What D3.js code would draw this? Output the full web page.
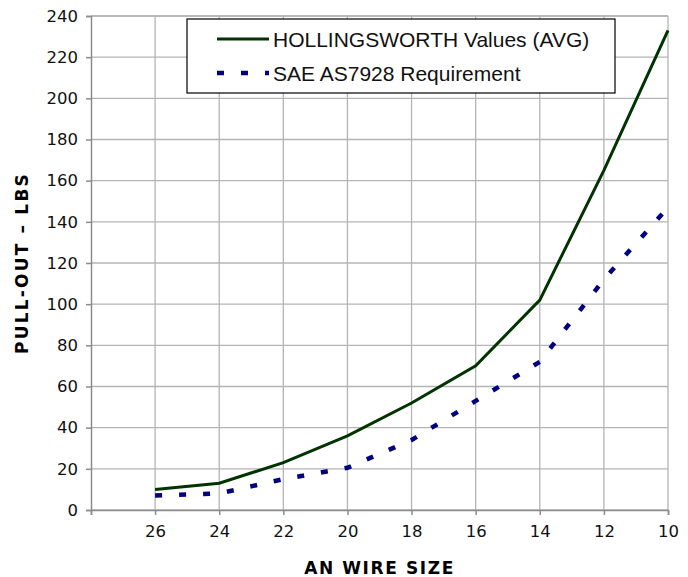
<!DOCTYPE html>
<html>
<head>
<meta charset="utf-8">
<script src="https://cdn.jsdelivr.net/npm/d3@7"></script>
<style>
  body { margin: 0; background: #fff; }
  svg { display: block; }
</style>
</head>
<body>
<div id="chart"></div>
<script>
// wire sizes, left to right
wireSizes = ["26", "24", "22", "20", "18", "16", "14", "12", "10"]
hollingsworth = [10, 13, 23, 36, 52, 70, 102, 165, 233]
saeReq = [7, 8, 15, 20.5, 34, 53, 72, 112, 147]
yTicks = [0, 20, 40, 60, 80, 100, 120, 140, 160, 180, 200, 220, 240]
seriesNames = ["HOLLINGSWORTH Values (AVG)", "SAE AS7928 Requirement"]

margin = {top: 16, right: 20, bottom: 67, left: 91},
width = 688 - margin.left - margin.right,
height = 577 - margin.top - margin.bottom;

svg = d3.select("#chart")
  .append("svg")
  .attr("width", 688)
  .attr("height", 577)
  .append("g")
  .attr("transform", `translate(${margin.left}, ${margin.top})`);

// empty slot on the left so 26 sits one step in from the axis
x = d3.scalePoint()
  .domain([""].concat(wireSizes))
  .range([0, width]);

y = d3.scaleLinear()
  .domain([0, 240])
  .range([height, 0]);

// grid
svg.append("g")
  .selectAll("line")
  .data(yTicks)
  .join("line")
    .attr("x1", 0).attr("x2", width)
    .attr("y1", d => y(d)).attr("y2", d => y(d))
    .style("stroke", "#b4b4b4").style("stroke-width", 1.3)
svg.append("g")
  .selectAll("line")
  .data(wireSizes)
  .join("line")
    .attr("x1", d => x(d)).attr("x2", d => x(d))
    .attr("y1", 0).attr("y2", height)
    .style("stroke", "#b4b4b4").style("stroke-width", 1.3)
svg.append("line")
  .attr("x1", 0).attr("x2", width).attr("y1", 0).attr("y2", 0)
  .style("stroke", "#b4b4b4").style("stroke-width", 1.3)

// axes
xAxis = svg.append("g")
  .attr("transform", `translate(0, ${height})`)
  .call(d3.axisBottom(x).tickSize(5).tickPadding(10))
xAxis.selectAll("text")
  .style("font-family", "DejaVu Sans, Verdana, sans-serif")
  .style("font-size", "16.5px")
  .style("fill", "#111")
xAxis.selectAll("line, path").style("stroke", "#8c8c8c").style("stroke-width", 1.5)

yAxis = svg.append("g")
  .call(d3.axisLeft(y).tickValues(yTicks).tickSize(5).tickPadding(8))
yAxis.selectAll("text")
  .style("font-family", "DejaVu Sans, Verdana, sans-serif")
  .style("font-size", "16.5px")
  .style("fill", "#111")
yAxis.selectAll("line, path").style("stroke", "#8c8c8c").style("stroke-width", 1.5)

// lines
line = d3.line()
  .x((d, i) => x(wireSizes[i]))
  .y(d => y(d))

svg.append("path")
  .datum(hollingsworth)
  .attr("d", line)
  .style("fill", "none")
  .style("stroke", "#003300")
  .style("stroke-width", 3)

svg.append("path")
  .datum(saeReq)
  .attr("d", line)
  .style("fill", "none")
  .style("stroke", "#000080")
  .style("stroke-width", 4.5)
  .style("stroke-dasharray", "7,17")

// axis titles
svg.append("text")
  .attr("x", width / 2)
  .attr("y", height + 64)
  .attr("text-anchor", "middle")
  .style("font-family", "DejaVu Sans, Verdana, sans-serif")
  .style("font-weight", "bold")
  .style("font-size", "17px")
  .style("letter-spacing", "1.6px")
  .text("AN WIRE SIZE")

svg.append("text")
  .attr("transform", `translate(${-63}, ${247}) rotate(-90)`)
  .attr("text-anchor", "middle")
  .style("font-family", "DejaVu Sans, Verdana, sans-serif")
  .style("font-weight", "bold")
  .style("font-size", "17px")
  .style("letter-spacing", "2.2px")
  .text("PULL-OUT – LBS")

// legend
legend = svg.append("g")
  .attr("transform", `translate(${187 - margin.left}, ${19 - margin.top})`)
legend.append("rect")
  .attr("width", 428).attr("height", 74)
  .style("fill", "#fff")
  .style("stroke", "#000")
  .style("stroke-width", 1.2)

legendStyles = [
  {stroke: "#003300", w: 3, dash: null},
  {stroke: "#000080", w: 4.5, dash: "7,17"}
]
seriesNames.forEach(function(name, i) {
  row = legend.append("g").attr("transform", `translate(0, ${20 + i * 34})`)
  row.append("line")
    .attr("x1", 30).attr("x2", 82)
    .style("stroke", legendStyles[i].stroke)
    .style("stroke-width", legendStyles[i].w)
    .style("stroke-dasharray", legendStyles[i].dash)
  row.append("text")
    .attr("x", 86)
    .attr("dy", "0.36em")
    .style("font-family", "Liberation Sans, Arial, sans-serif")
    .style("font-size", "21px")
    .style("fill", "#111")
    .text(name)
})
</script>
</body>
</html>
